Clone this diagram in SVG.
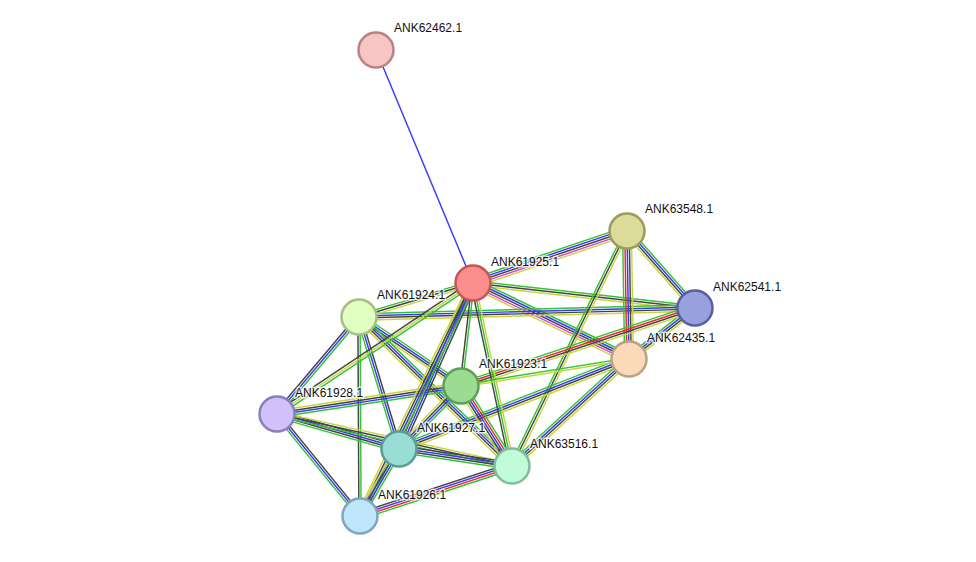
<svg xmlns="http://www.w3.org/2000/svg" width="976" height="562" viewBox="0 0 976 562">
<style>
line{stroke-width:1.45;fill:none}
.g{stroke:#33c433}.b{stroke:#3a3af0}.k{stroke:#444}.m{stroke:#d545d5}.r{stroke:#f02828}.y{stroke:#c6d63a}
.n{stroke-width:2.5}
text{font-family:"Liberation Sans",Arial,sans-serif;font-size:12px;fill:#111;stroke:#fff;stroke-width:3;stroke-opacity:.75;paint-order:stroke;stroke-linejoin:round}
</style>
<rect width="976" height="562" fill="#fff"/>
<g id="edges">
<line x1="376" y1="50" x2="473" y2="283" stroke="#3a3aff" stroke-width="1.4"/>
<g transform="translate(473 283) rotate(-18.66)"><line x2="162.5" y1="-4.4" y2="-4.4" class="g"/><line x2="162.5" y1="-2.2" y2="-2.2" class="b"/><line x2="162.5" class="k"/><line x2="162.5" y1="2.2" y2="2.2" class="m"/><line x2="162.5" y1="4.4" y2="4.4" class="y"/></g>
<g transform="translate(473 283) rotate(6.42)"><line x2="223.4" y1="-2.2" y2="-2.2" class="g"/><line x2="223.4" class="k"/><line x2="223.4" y1="2.2" y2="2.2" class="y"/></g>
<g transform="translate(473 283) rotate(25.97)"><line x2="173.5" y1="-4.4" y2="-4.4" class="g"/><line x2="173.5" y1="-2.2" y2="-2.2" class="b"/><line x2="173.5" class="k"/><line x2="173.5" y1="2.2" y2="2.2" class="m"/><line x2="173.5" y1="4.4" y2="4.4" class="y"/></g>
<g transform="translate(359 317) rotate(-1.53)"><line x2="336.1" y1="-3.3" y2="-3.3" class="g"/><line x2="336.1" y1="-1.1" y2="-1.1" class="b"/><line x2="336.1" y1="1.1" y2="1.1" class="k"/><line x2="336.1" y1="3.3" y2="3.3" class="y"/></g>
<g transform="translate(627 231) rotate(89.1)"><line x2="128" y1="4.4" y2="4.4" class="g"/><line x2="128" y1="2.2" y2="2.2" class="r"/><line x2="128" class="b"/><line x2="128" y1="-2.2" y2="-2.2" class="k"/><line x2="128" y1="-4.4" y2="-4.4" class="y"/></g>
<g transform="translate(627 231) rotate(48.55)"><line x2="102.7" y1="-3.3" y2="-3.3" class="g"/><line x2="102.7" y1="-1.1" y2="-1.1" class="b"/><line x2="102.7" y1="1.1" y2="1.1" class="k"/><line x2="102.7" y1="3.3" y2="3.3" class="y"/></g>
<g transform="translate(627 231) rotate(116.07)"><line x2="261.6" y1="2.2" y2="2.2" class="g"/><line x2="261.6" class="k"/><line x2="261.6" y1="-2.2" y2="-2.2" class="y"/></g>
<g transform="translate(629 359) rotate(158.63)"><line x2="247" y1="3.3" y2="3.3" class="g"/><line x2="247" y1="1.1" y2="1.1" class="b"/><line x2="247" y1="-1.1" y2="-1.1" class="k"/><line x2="247" y1="-3.3" y2="-3.3" class="y"/></g>
<g transform="translate(629 359) rotate(137.56)"><line x2="158.5" y1="3.3" y2="3.3" class="g"/><line x2="158.5" y1="1.1" y2="1.1" class="b"/><line x2="158.5" y1="-1.1" y2="-1.1" class="k"/><line x2="158.5" y1="-3.3" y2="-3.3" class="y"/></g>
<g transform="translate(695 308) rotate(142.31)"><line x2="83.4" y1="3.3" y2="3.3" class="g"/><line x2="83.4" y1="1.1" y2="1.1" class="b"/><line x2="83.4" y1="-1.1" y2="-1.1" class="k"/><line x2="83.4" y1="-3.3" y2="-3.3" class="y"/></g>
<g transform="translate(461 386) rotate(-18.43)"><line x2="246.7" y1="-3.3" y2="-3.3" class="g"/><line x2="246.7" y1="-1.1" y2="-1.1" class="r"/><line x2="246.7" y1="1.1" y2="1.1" class="k"/><line x2="246.7" y1="3.3" y2="3.3" class="y"/></g>
<g transform="translate(359 317) rotate(-16.61)"><line x2="119" y1="-2.2" y2="-2.2" class="g"/><line x2="119" class="k"/><line x2="119" y1="2.2" y2="2.2" class="y"/></g>
<g transform="translate(359 317) rotate(34.08)"><line x2="123.1" y1="-3.3" y2="-3.3" class="g"/><line x2="123.1" y1="-1.1" y2="-1.1" class="b"/><line x2="123.1" y1="1.1" y2="1.1" class="k"/><line x2="123.1" y1="3.3" y2="3.3" class="y"/></g>
<g transform="translate(359 317) rotate(44.24)"><line x2="213.6" y1="-3.3" y2="-3.3" class="g"/><line x2="213.6" y1="-1.1" y2="-1.1" class="b"/><line x2="213.6" y1="1.1" y2="1.1" class="k"/><line x2="213.6" y1="3.3" y2="3.3" class="y"/></g>
<g transform="translate(359 317) rotate(73.14)"><line x2="137.9" y1="2.2" y2="2.2" class="g"/><line x2="137.9" class="b"/><line x2="137.9" y1="-2.2" y2="-2.2" class="k"/></g>
<g transform="translate(359 317) rotate(89.71)"><line x2="199" y1="-1.1" y2="-1.1" class="g"/><line x2="199" y1="1.1" y2="1.1" class="k"/></g>
<g transform="translate(359 317) rotate(130.21)"><line x2="127" y1="-2.2" y2="-2.2" class="g"/><line x2="127" class="b"/><line x2="127" y1="2.2" y2="2.2" class="k"/></g>
<g transform="translate(277 414) rotate(-33.75)"><line x2="235.7" y1="-2.2" y2="-2.2" class="k"/><line x2="235.7" class="y"/><line x2="235.7" y1="2.2" y2="2.2" class="g"/></g>
<g transform="translate(277 414) rotate(-8.65)"><line x2="186.1" y1="-3.3" y2="-3.3" class="y"/><line x2="186.1" y1="-1.1" y2="-1.1" class="k"/><line x2="186.1" y1="1.1" y2="1.1" class="b"/><line x2="186.1" y1="3.3" y2="3.3" class="g"/></g>
<g transform="translate(277 414) rotate(16.01)"><line x2="126.9" y1="-3.3" y2="-3.3" class="k"/><line x2="126.9" y1="-1.1" y2="-1.1" class="b"/><line x2="126.9" y1="1.1" y2="1.1" class="k"/><line x2="126.9" y1="3.3" y2="3.3" class="g"/></g>
<g transform="translate(277 414) rotate(12.48)"><line x2="240.7" y1="-2.2" y2="-2.2" class="y"/><line x2="240.7" class="k"/><line x2="240.7" y1="2.2" y2="2.2" class="g"/></g>
<g transform="translate(277 414) rotate(50.86)"><line x2="131.5" y1="-2.2" y2="-2.2" class="k"/><line x2="131.5" class="b"/><line x2="131.5" y1="2.2" y2="2.2" class="g"/></g>
<g transform="translate(473 283) rotate(96.65)"><line x2="103.7" y1="-1.1" y2="-1.1" class="g"/><line x2="103.7" y1="1.1" y2="1.1" class="k"/></g>
<g transform="translate(473 283) rotate(77.97)"><line x2="187.1" y1="2.2" y2="2.2" class="k"/><line x2="187.1" class="g"/><line x2="187.1" y1="-2.2" y2="-2.2" class="y"/></g>
<g transform="translate(473 283) rotate(114.02)"><line x2="181.7" y1="3.3" y2="3.3" class="y"/><line x2="181.7" y1="1.1" y2="1.1" class="k"/><line x2="181.7" y1="-1.1" y2="-1.1" class="b"/><line x2="181.7" y1="-3.3" y2="-3.3" class="k"/></g>
<g transform="translate(473 283) rotate(115.87)"><line x2="259" y1="-3.3" y2="-3.3" class="g"/><line x2="259" y1="-1.1" y2="-1.1" class="b"/><line x2="259" y1="1.1" y2="1.1" class="k"/><line x2="259" y1="3.3" y2="3.3" class="y"/></g>
<g transform="translate(461 386) rotate(134.54)"><line x2="88.4" y1="-3.3" y2="-3.3" class="g"/><line x2="88.4" y1="-1.1" y2="-1.1" class="b"/><line x2="88.4" y1="1.1" y2="1.1" class="k"/><line x2="88.4" y1="3.3" y2="3.3" class="y"/></g>
<g transform="translate(461 386) rotate(57.48)"><line x2="94.9" y1="-4.4" y2="-4.4" class="g"/><line x2="94.9" y1="-2.2" y2="-2.2" class="r"/><line x2="94.9" class="b"/><line x2="94.9" y1="2.2" y2="2.2" class="k"/><line x2="94.9" y1="4.4" y2="4.4" class="y"/></g>
<g transform="translate(461 386) rotate(-9.13)"><line x2="170.2" y1="-1.1" y2="-1.1" class="g"/><line x2="170.2" y1="1.1" y2="1.1" class="y"/></g>
<g transform="translate(399 449) rotate(8.56)"><line x2="114.3" y1="-3.3" y2="-3.3" class="k"/><line x2="114.3" y1="-1.1" y2="-1.1" class="b"/><line x2="114.3" y1="1.1" y2="1.1" class="k"/><line x2="114.3" y1="3.3" y2="3.3" class="g"/></g>
<g transform="translate(399 449) rotate(120.21)"><line x2="77.5" y1="-3.3" y2="-3.3" class="g"/><line x2="77.5" y1="-1.1" y2="-1.1" class="b"/><line x2="77.5" y1="1.1" y2="1.1" class="k"/><line x2="77.5" y1="3.3" y2="3.3" class="y"/></g>
<g transform="translate(512 466) rotate(161.79)"><line x2="160" y1="3.3" y2="3.3" class="k"/><line x2="160" y1="1.1" y2="1.1" class="b"/><line x2="160" y1="-1.1" y2="-1.1" class="r"/><line x2="160" y1="-3.3" y2="-3.3" class="g"/></g>
</g>
<g id="ANK62462.1"><circle class="n" cx="376" cy="50" r="17.5" fill="#f8c5c5" stroke="#b58585"/><text x="394" y="32">ANK62462.1</text></g>
<g id="ANK61925.1"><circle class="n" cx="473" cy="283" r="17.5" fill="#fd8e8e" stroke="#c65656"/><text x="491" y="266">ANK61925.1</text></g>
<g id="ANK63548.1"><circle class="n" cx="627" cy="231" r="17.5" fill="#dcdb98" stroke="#9d9b5a"/><text x="645" y="213">ANK63548.1</text></g>
<g id="ANK62541.1"><circle class="n" cx="695" cy="308" r="17.5" fill="#98a0de" stroke="#5860a0"/><text x="713" y="291">ANK62541.1</text></g>
<g id="ANK62435.1"><circle class="n" cx="629" cy="359" r="17.5" fill="#fcd9b8" stroke="#bba282"/><text x="647" y="342">ANK62435.1</text></g>
<g id="ANK61924.1"><circle class="n" cx="359" cy="317" r="17.5" fill="#e0ffc0" stroke="#a3bf85"/><text x="377" y="299">ANK61924.1</text></g>
<g id="ANK61923.1"><circle class="n" cx="461" cy="386" r="17.5" fill="#9cdc90" stroke="#5f9f58"/><text x="479" y="368">ANK61923.1</text></g>
<g id="ANK61928.1"><circle class="n" cx="277" cy="414" r="17.5" fill="#d0c0fc" stroke="#8e7dbd"/><text x="295" y="397">ANK61928.1</text></g>
<g id="ANK61927.1"><circle class="n" cx="399" cy="449" r="17.5" fill="#98ddd6" stroke="#5a9d96"/><text x="417" y="432">ANK61927.1</text></g>
<g id="ANK63516.1"><circle class="n" cx="512" cy="466" r="17.5" fill="#c0fcd8" stroke="#80bd9b"/><text x="530" y="448">ANK63516.1</text></g>
<g id="ANK61926.1"><circle class="n" cx="360" cy="516" r="17.5" fill="#c0e6fc" stroke="#7fa6bd"/><text x="378" y="499">ANK61926.1</text></g>
</svg>
